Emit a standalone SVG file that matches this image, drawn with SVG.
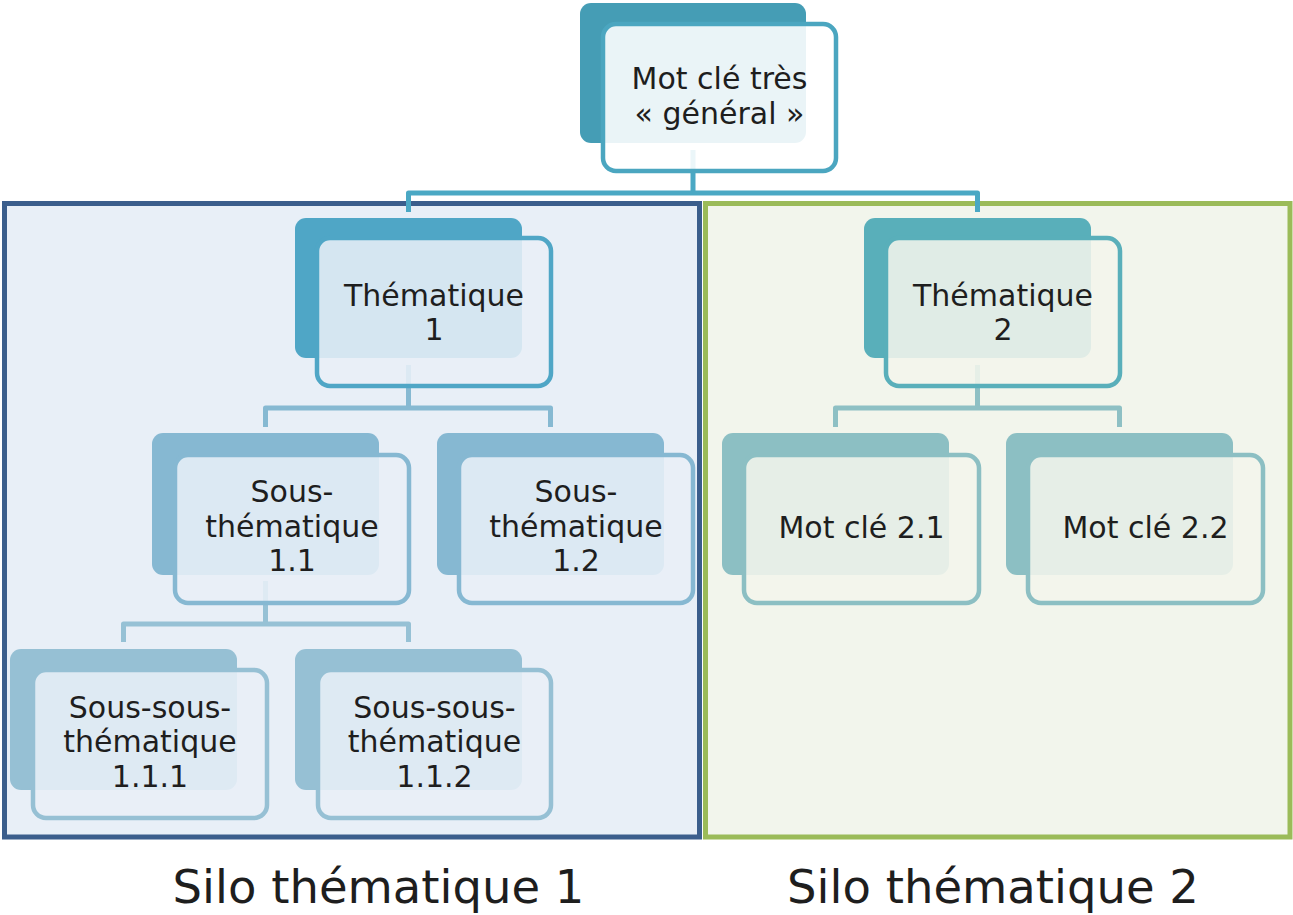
<svg xmlns="http://www.w3.org/2000/svg" width="1293" height="915" viewBox="0 0 1293 915">
<style>
text{font-family:"DejaVu Sans","Liberation Sans",sans-serif;fill:#1e1e1e;text-anchor:middle}
.t{font-size:30px}
.silo-label{font-size:46.5px}
.conn{fill:none;stroke-width:5;stroke-linejoin:round}
.back{stroke:none}
.front{stroke-width:4.5}
.f0{fill:#ffffff;fill-opacity:0.89}
.f1{fill:#e8eff7;fill-opacity:0.88}
.f2{fill:#f2f5ec;fill-opacity:0.88}
</style>
<rect width="1293" height="915" fill="#ffffff"/>
<g id="silo1">
<rect x="4.5" y="203.5" width="695" height="633.5" fill="#e8eff7" stroke="#3b5e8c" stroke-width="5"/>
<text class="silo-label" x="378.5" y="903">Silo thématique 1</text>
</g>
<g id="silo2">
<rect x="705.5" y="203.5" width="584.5" height="633.5" fill="#f2f5ec" stroke="#9bbb59" stroke-width="5"/>
<text class="silo-label" x="993" y="903">Silo thématique 2</text>
</g>
<g id="connectors">
<path class="conn" stroke="#4aa8c4" d="M693 150V193M408.5 212V193H977.5V212"/>
<path class="conn" stroke="#86b9d2" d="M408.5 365V408M265.5 427V408H550.5V427"/>
<path class="conn" stroke="#8ec0c4" d="M977.5 365V408M835.5 427V408H1119.5V427"/>
<path class="conn" stroke="#96c1d5" d="M265.5 581V624M123.5 642V624H408.5V642"/>
</g>
<g id="node-top">
<rect class="back" x="580" y="3" width="226" height="140" rx="11" fill="#459db5"/>
<rect class="front f0" x="603" y="24" width="233" height="147" rx="13" stroke="#4ba6c0"/>
<text class="t" x="719.5" y="89">Mot clé très</text>
<text class="t" x="719.5" y="124">« général »</text>
</g>
<g id="node-t1">
<rect class="back" x="295" y="218" width="227" height="140" rx="11" fill="#4fa6c6"/>
<rect class="front f1" x="317" y="238" width="234" height="148" rx="13" stroke="#4fa6c6"/>
<text class="t" x="434" y="306">Thématique</text>
<text class="t" x="434" y="340">1</text>
</g>
<g id="node-t2">
<rect class="back" x="864" y="218" width="227" height="140" rx="11" fill="#59afba"/>
<rect class="front f2" x="886" y="238" width="234" height="148" rx="13" stroke="#59afba"/>
<text class="t" x="1003" y="306">Thématique</text>
<text class="t" x="1003" y="340">2</text>
</g>
<g id="node-s11">
<rect class="back" x="152" y="433" width="227" height="142" rx="11" fill="#86b8d2"/>
<rect class="front f1" x="175" y="455" width="234" height="148" rx="13" stroke="#86b8d2"/>
<text class="t" x="292" y="502">Sous-</text>
<text class="t" x="292" y="537">thématique</text>
<text class="t" x="292" y="571">1.1</text>
</g>
<g id="node-s12">
<rect class="back" x="437" y="433" width="227" height="142" rx="11" fill="#86b8d2"/>
<rect class="front f1" x="459" y="455" width="234" height="148" rx="13" stroke="#86b8d2"/>
<text class="t" x="576" y="502">Sous-</text>
<text class="t" x="576" y="537">thématique</text>
<text class="t" x="576" y="571">1.2</text>
</g>
<g id="node-m21">
<rect class="back" x="722" y="433" width="227" height="142" rx="11" fill="#8cbfc3"/>
<rect class="front f2" x="744" y="455" width="235" height="148" rx="13" stroke="#8cbfc3"/>
<text class="t" x="861.5" y="538">Mot clé 2.1</text>
</g>
<g id="node-m22">
<rect class="back" x="1006" y="433" width="227" height="142" rx="11" fill="#8cbfc3"/>
<rect class="front f2" x="1028" y="455" width="235" height="148" rx="13" stroke="#8cbfc3"/>
<text class="t" x="1145.5" y="538">Mot clé 2.2</text>
</g>
<g id="node-ss111">
<rect class="back" x="10" y="649" width="227" height="141" rx="11" fill="#96c0d4"/>
<rect class="front f1" x="33" y="670" width="234" height="148" rx="13" stroke="#96c0d4"/>
<text class="t" x="150" y="718">Sous-sous-</text>
<text class="t" x="150" y="752">thématique</text>
<text class="t" x="150" y="787">1.1.1</text>
</g>
<g id="node-ss112">
<rect class="back" x="295" y="649" width="227" height="141" rx="11" fill="#96c0d4"/>
<rect class="front f1" x="318" y="670" width="233" height="148" rx="13" stroke="#96c0d4"/>
<text class="t" x="434.5" y="718">Sous-sous-</text>
<text class="t" x="434.5" y="752">thématique</text>
<text class="t" x="434.5" y="787">1.1.2</text>
</g>
</svg>
